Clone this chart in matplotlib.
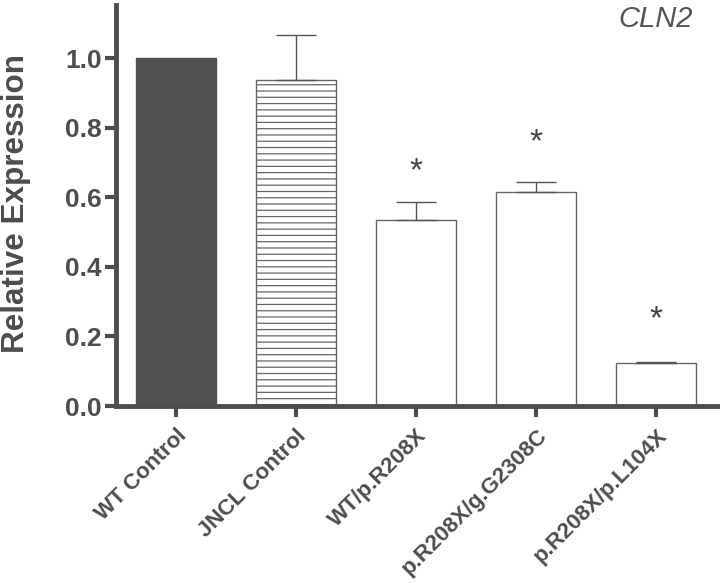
import matplotlib
matplotlib.use("Agg")
import matplotlib.pyplot as plt

categories = ["WT Control", "JNCL Control", "WT/p.R208X", "p.R208X/g.G2308C", "p.R208X/p.L104X"]
values = [1.0, 0.937, 0.535, 0.616, 0.123]
errors = [0.0, 0.129, 0.051, 0.028, 0.003]
star_heights = [None, None, 0.687, 0.770, 0.261]
yticks = [0.0, 0.2, 0.4, 0.6, 0.8, 1.0]

DPI = 113.4
S = 100.0 / DPI  # keep sizes as designed for 100 dpi

plt.rcParams['font.family'] = ['Liberation Sans', 'DejaVu Sans']
plt.rcParams['hatch.linewidth'] = 0.9 * S
plt.rcParams['hatch.color'] = '#555555'

axc = '#4d4d4d'
fig = plt.figure(figsize=(720 / DPI, 583 / DPI), dpi=DPI)
ax = fig.add_axes([0.161, 0.3036, 0.839, 0.6874])

x = list(range(len(categories)))
faces = ['#505050', 'white', 'white', 'white', 'white']
hatches = [None, '---', None, None, None]
for i in x:
    ax.bar(i, values[i], width=0.667, color=faces[i], edgecolor='#666666' if i else '#505050',
           linewidth=1.0 * S, hatch=hatches[i], zorder=2)
    if errors[i] > 0:
        ax.errorbar(i, values[i], yerr=[[0], [errors[i]]], fmt='none', ecolor='#555555',
                    elinewidth=1.0 * S, capsize=14.5 * S, capthick=1.0 * S, zorder=3)
    if star_heights[i] is not None:
        ax.text(i, star_heights[i] - 0.057, '*', ha='center', va='bottom',
                fontsize=24 * S, color='#444444')

for s in ['top', 'right']:
    ax.spines[s].set_visible(False)
for s in ['left', 'bottom']:
    ax.spines[s].set_linewidth(3.5 * S)
    ax.spines[s].set_color(axc)

ax.set_xlim(-0.5, 4.53)
ax.set_ylim(0, 1.152)
ax.set_yticks(yticks)
ax.set_yticklabels([f"{v:.1f}" for v in yticks], fontsize=19 * S, fontweight='bold', color=axc)
ax.set_xticks(x)
ax.set_xticklabels(categories, rotation=45, ha='right', rotation_mode='anchor',
                   fontsize=16 * S, fontweight='bold', color=axc)
ax.set_ylabel('Relative Expression', fontsize=22.6 * S, fontweight='bold', color=axc)
ax.yaxis.set_label_coords(-0.140, 0.505)

ax.tick_params(axis='both', width=3 * S, length=8 * S, color=axc)
ax.tick_params(axis='y', pad=2 * S)
ax.tick_params(axis='x', pad=6 * S)

ax.text(0.955, 1.0, 'CLN2', transform=ax.transAxes, ha='right', va='top',
        fontsize=21 * S, style='italic', color='#555555')

fig.savefig('out.png', dpi=DPI)
